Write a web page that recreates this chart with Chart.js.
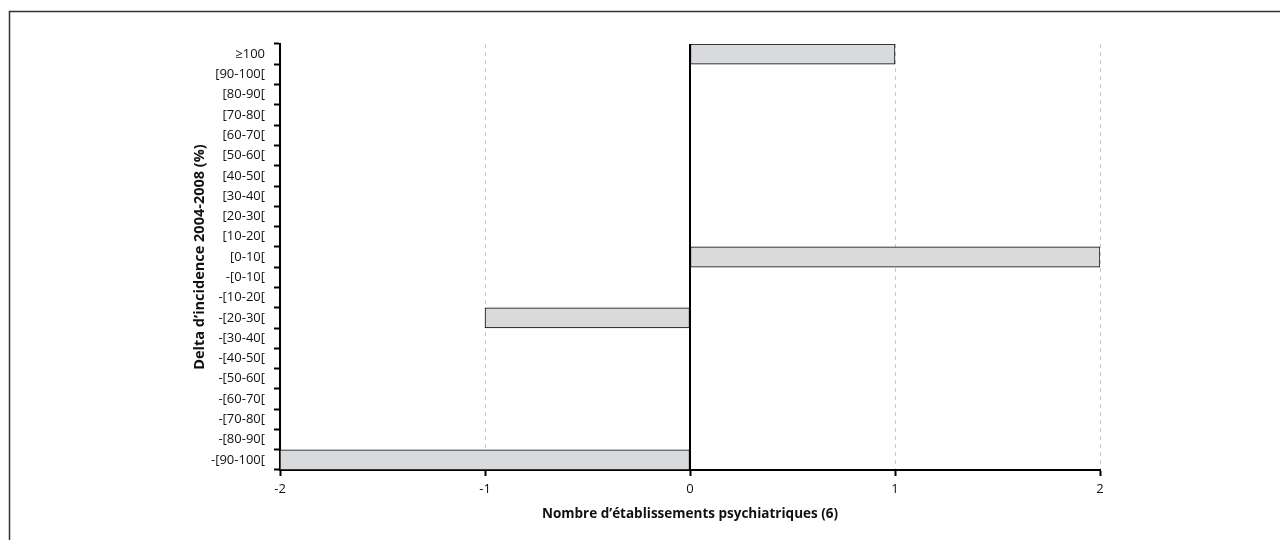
<!DOCTYPE html>
<html>
<head>
<meta charset="utf-8">
<script src="https://cdn.jsdelivr.net/npm/chart.js@4/dist/chart.umd.min.js"></script>
<style>
  html, body { margin: 0; padding: 0; background: #fff; }
  #wrap { width: 1280px; height: 540px; position: relative; }
</style>
</head>
<body>
<div id="wrap"><canvas id="c" width="1280" height="540"></canvas></div>
<script>
const categories = ['≥100', '[90-100[', '[80-90[', '[70-80[', '[60-70[', '[50-60[', '[40-50[', '[30-40[', '[20-30[', '[10-20[', '[0-10[',
  '-[0-10[', '-[10-20[', '-[20-30[', '-[30-40[', '-[40-50[', '-[50-60[', '-[60-70[', '-[70-80[', '-[80-90[', '-[90-100['];
const counts = [1, 0, 0, 0, 0, 0, 0, 0, 0, 0, 2, 0, 0, -1, 0, 0, 0, 0, 0, 0, -2];
const xTicks = [-2, -1, 0, 1, 2];
const xTitle = 'Nombre d’établissements psychiatriques (6)';
const yTitle = 'Delta d’incidence 2004-2008 (%)';

const FONT = "'Open Sans', 'DejaVu Sans', sans-serif";

const frame = {
  id: 'frame',
  afterDraw(chart) {
    const ctx = chart.ctx;
    ctx.save();
    ctx.strokeStyle = '#333';
    ctx.lineWidth = 1.5;
    ctx.beginPath();
    ctx.moveTo(9.5, 540);
    ctx.lineTo(9.5, 11.5);
    ctx.lineTo(1280, 11.5);
    ctx.stroke();
    // zero line via the x scale
    const xs = chart.scales.x;
    const ca = chart.chartArea;
    const x0 = Math.round(xs.getPixelForValue(0));
    ctx.strokeStyle = '#000';
    ctx.lineWidth = 2;
    ctx.beginPath();
    ctx.moveTo(x0, ca.top);
    ctx.lineTo(x0, ca.bottom);
    ctx.stroke();
    ctx.restore();
  }
};

new Chart(document.getElementById('c'), {
  type: 'bar',
  data: {
    labels: categories,
    datasets: [{
      data: counts,
      backgroundColor: '#d9dadb',
      borderColor: '#000',
      borderWidth: 1,
      borderSkipped: false,
      barPercentage: 1,
      categoryPercentage: 1
    }]
  },
  options: {
    indexAxis: 'y',
    responsive: false,
    animation: false,
    devicePixelRatio: 1,
    layout: { padding: { left: 180, top: 44, right: 180, bottom: 0 } },
    plugins: { legend: { display: false }, tooltip: { enabled: false } },
    scales: {
      x: {
        type: 'linear',
        min: -2, max: 2,
        afterFit(s) { s.height = 70; },
        afterBuildTicks(s) { s.ticks = xTicks.map(v => ({ value: v })); },
        ticks: { color: '#111', padding: 5, font: { family: FONT, size: 13 } },
        grid: {
          color: '#c8c8c8', lineWidth: 1,
          tickColor: '#000', tickWidth: 2, tickLength: 6, tickBorderDash: []
        },
        border: { display: true, color: '#000', width: 2, dash: [4, 4] },
        title: {
          display: true, text: xTitle, color: '#111',
          font: { family: FONT, size: 13.5, weight: 'bold' },
          padding: { top: 0, bottom: 18 }
        }
      },
      y: {
        type: 'category',
        offset: true,
        afterFit(s) { s.width = 100; },
        ticks: { color: '#111', padding: 9, font: { family: FONT, size: 13 }, autoSkip: false },
        grid: {
          offset: true, drawOnChartArea: false,
          color: '#000', tickColor: '#000', tickWidth: 2, tickLength: 6
        },
        border: { display: true, color: '#000', width: 2 },
        title: {
          display: true, text: yTitle, color: '#111',
          font: { family: FONT, size: 14.5, weight: 'bold' },
          padding: { top: 11, bottom: 0 }
        }
      }
    }
  },
  plugins: [frame]
});
</script>
</body>
</html>
